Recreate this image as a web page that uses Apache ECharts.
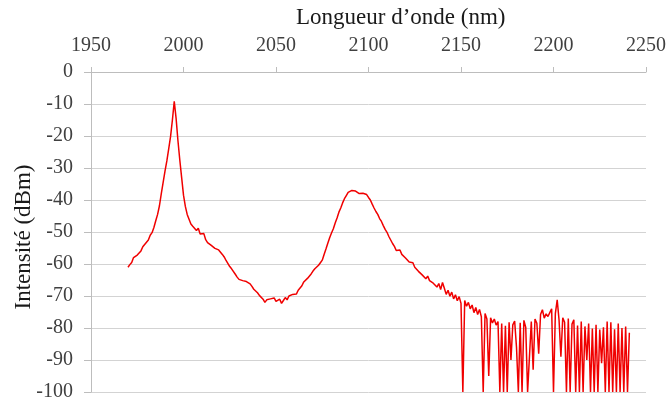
<!DOCTYPE html>
<html>
<head>
<meta charset="utf-8">
<script src="https://cdn.jsdelivr.net/npm/echarts@6/dist/echarts.min.js"></script>
<style>
html,body{margin:0;padding:0;background:#fff;}
#chart{width:669px;height:405px;}
</style>
</head>
<body>
<div id="chart"></div>
<script>
const xTitle = "Longueur d\u2019onde (nm)";
const yTitle = "Intensit\u00e9 (dBm)";
const xTicks = [1950, 2000, 2050, 2100, 2150, 2200, 2250];
const yTicks = [0, -10, -20, -30, -40, -50, -60, -70, -80, -90, -100];

const wavelength = [
1970,1971,1972,1973,1974,1975,1976,1977,1978,1979,
1980,1981,1982,1983,1984,1985,1986,1987,1988,1989,
1990,1991,1992,1993,1994,1995,1996,1997,1998,1999,
2000,2001,2002,2003,2004,2005,2006,2007,2008,2009,
2010,2011,2012,2013,2014,2015,2016,2017,2018,2019,
2020,2021,2022,2023,2024,2025,2026,2027,2028,2029,
2030,2031,2032,2033,2034,2035,2036,2037,2038,2039,
2040,2041,2042,2043,2044,2045,2046,2047,2048,2049,
2050,2051,2052,2053,2054,2055,2056,2057,2058,2059,
2060,2061,2062,2063,2064,2065,2066,2067,2068,2069,
2070,2071,2072,2073,2074,2075,2076,2077,2078,2079,
2080,2081,2082,2083,2084,2085,2086,2087,2088,2089,
2090,2091,2092,2093,2094,2095,2096,2097,2098,2099,
2100,2101,2102,2103,2104,2105,2106,2107,2108,2109,
2110,2111,2112,2113,2114,2115,2116,2117,2118,2119,
2120,2121,2122,2123,2124,2125,2126,2127,2128,2129,
2130,2131,2132,2133,2134,2135,2136,2137,2138,2139,
2140,2141,2142,2143,2144,2145,2146,2147,2148,2149,
2150,2151,2152,2153,2154,2155,2156,2157,2158,2159,
2160,2161,2162,2163,2164,2165,2166,2167,2168,2169,
2170,2171,2172,2173,2174,2175,2176,2177,2178,2179,
2180,2181,2182,2183,2184,2185,2186,2187,2188,2189,
2190,2191,2192,2193,2194,2195,2196,2197,2198,2199,
2200,2201,2202,2203,2204,2205,2206,2207,2208,2209,
2210,2211,2212,2213,2214,2215,2216,2217,2218,2219,
2220,2221,2222,2223,2224,2225,2226,2227,2228,2229,
2230,2231,2232,2233,2234,2235,2236,2237,2238,2239,
2240,2241
];

const intensity = [
-61.0,-60.2,-59.5,-58.0,-58.6,-57.2,-56.8,-55.9,-54.6,-54.9,
-53.2,-52.5,-51.0,-50.2,-48.6,-46.5,-44.5,-41.8,-38.0,-34.5,
-31.0,-27.8,-24.0,-20.2,-15.0,-9.2,-14.5,-21.5,-27.5,-33.0,
-38.5,-42.0,-44.5,-46.0,-47.5,-48.2,-47.6,-49.5,-48.8,-50.6,
-51.2,-50.5,-52.4,-53.3,-53.0,-54.2,-54.0,-55.1,-54.8,-55.6,
-56.2,-57.0,-57.8,-58.9,-59.5,-60.8,-61.5,-62.0,-63.2,-64.1,
-64.8,-64.5,-65.2,-64.9,-65.5,-65.3,-66.2,-67.0,-67.9,-68.4,
-69.0,-69.8,-70.3,-71.0,-72.0,-71.2,-71.8,-70.9,-71.5,-70.6,
-71.7,-72.2,-71.0,-72.3,-71.4,-70.5,-71.2,-70.0,-70.6,-69.5,
-68.9,-69.4,-68.2,-67.5,-66.8,-65.6,-65.9,-64.5,-63.8,-63.1,
-62.2,-61.5,-61.8,-60.4,-59.6,-58.8,-57.0,-55.3,-53.5,-51.8,
-50.3,-49.0,-47.2,-45.6,-43.8,-42.5,-40.9,-39.6,-38.6,-37.6,
-37.1,-37.0,-37.4,-37.2,-37.8,-38.0,-38.3,-37.9,-37.7,-38.3,
-39.2,-40.0,-41.3,-42.5,-43.6,-44.5,-45.8,-46.7,-48.0,-49.2,
-50.1,-51.4,-52.5,-53.6,-54.5,-55.8,-56.2,-55.6,-57.0,-57.4,
-58.1,-58.5,-59.4,-60.0,-59.6,-61.0,-61.5,-62.3,-61.8,-63.4,
-63.0,-64.6,-63.8,-65.2,-64.6,-66.0,-65.4,-67.2,-66.1,-68.0,
-65.8,-67.6,-69.5,-68.2,-70.1,-68.8,-70.9,-69.6,-71.5,-70.2,
-72.3,-100,-71.4,-73.2,-72.0,-74.0,-72.8,-75.2,-73.6,-75.8,
-74.2,-76.5,-100,-75.5,-77.2,-95,-76.8,-78.4,-77.2,-79.1,
-78.0,-100,-78.6,-100,-79.3,-100,-78.2,-90,-79.0,-77.8,
-86,-100,-78.4,-100,-77.6,-79.8,-100,-100,-78.0,-93,
-77.2,-78.5,-88,-75.8,-74.3,-76.9,-75.6,-76.4,-75.2,-74.0,
-100,-75.5,-71.2,-77.5,-89,-76.8,-78.2,-100,-77.0,-100,
-78.8,-77.4,-100,-79.2,-100,-78.0,-100,-79.5,-90,-78.6,
-100,-80.2,-100,-79.0,-100,-80.5,-91,-79.8,-100,-78.0,
-100,-78.2,-100,-80.4,-100,-78.6,-100,-80.0,-100,-79.5,
-100,-81.5
];

const seriesData = wavelength.map((w, i) => [w, intensity[i]]);

const chart = echarts.init(document.getElementById('chart'), null, {renderer: 'canvas'});
const serif = '"Liberation Serif", "Times New Roman", serif';
chart.setOption({
  animation: false,
  backgroundColor: '#ffffff',
  grid: {left: 91, right: 23, top: 72, bottom: 13, containLabel: false},
  graphic: [
    {type: 'text', left: 296, top: 6,
     style: {text: xTitle, font: '23px ' + serif, fill: '#1a1a1a'}},
    {type: 'text', x: 24, y: 237, rotation: Math.PI / 2,
     style: {text: yTitle, font: '23px ' + serif, fill: '#1a1a1a', textAlign: 'center', textVerticalAlign: 'middle'}}
  ],
  xAxis: {
    type: 'value', position: 'top', min: xTicks[0], max: xTicks[xTicks.length - 1], interval: 50,
    axisLine: {show: true, onZero: false, lineStyle: {color: '#bdbdbd', width: 1}},
    axisTick: {show: true, length: 5, lineStyle: {color: '#bdbdbd'}},
    axisLabel: {margin: 16, fontFamily: 'Liberation Serif', fontSize: 20, color: '#404040',
      formatter: v => String(v)},
    splitLine: {show: false}
  },
  yAxis: {
    type: 'value', min: yTicks[yTicks.length - 1], max: yTicks[0], interval: 10,
    axisLine: {show: true, lineStyle: {color: '#bdbdbd', width: 1}},
    axisTick: {show: true, length: 7, lineStyle: {color: '#bdbdbd'}},
    axisLabel: {margin: 18, fontFamily: 'Liberation Serif', fontSize: 20, color: '#404040',
      formatter: v => String(v)},
    splitLine: {show: true, lineStyle: {color: '#d3d3d3', width: 1}}
  },
  series: [{
    type: 'line', data: seriesData, showSymbol: false, symbol: 'none',
    lineStyle: {color: '#f00000', width: 1.5}, sampling: null, smooth: false
  }]
});
</script>
</body>
</html>
